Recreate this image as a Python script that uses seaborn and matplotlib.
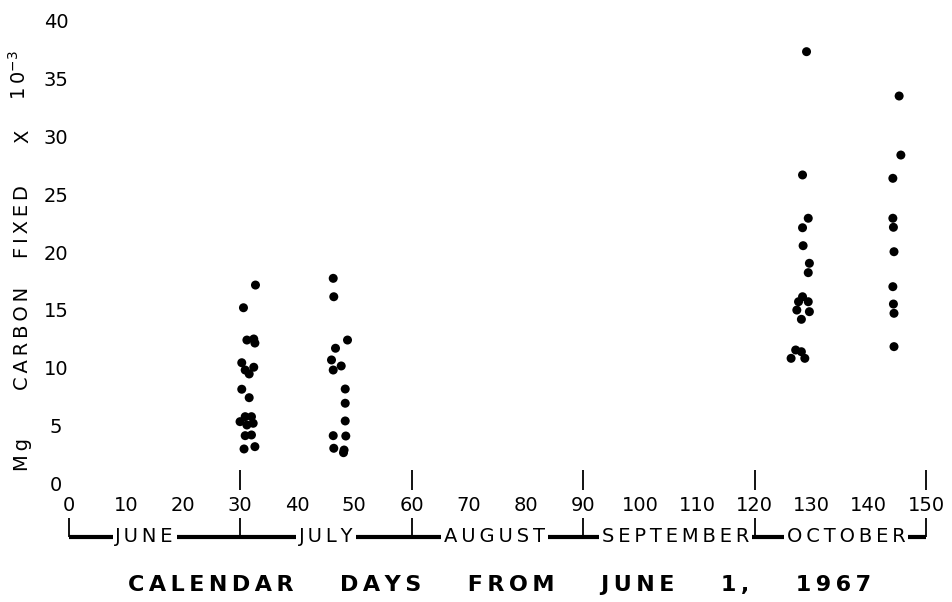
import matplotlib
matplotlib.use("Agg")
import matplotlib.pyplot as plt
import seaborn as sns

# ======================================
# Datos
# ======================================
day = [
    # ~30 de junio / 1 de julio
    32.7, 30.6, 31.2, 32.4, 32.6, 30.3, 30.9, 31.6, 32.4, 30.3,
    31.6, 30.0, 30.9, 32.0, 32.3, 31.2, 30.9, 32.0, 30.7, 32.6,
    # ~mediados de julio
    46.3, 46.4, 48.8, 46.7, 46.0, 46.3, 47.7, 48.4, 48.4, 48.4,
    46.3, 48.5, 46.4, 48.2, 48.1,
    # ~octubre (1)
    129.1, 128.4, 129.4, 128.4, 128.5, 129.6, 129.4, 128.4, 127.7, 129.4,
    127.4, 129.6, 128.2, 127.2, 128.2, 126.4, 128.8,
    # ~octubre (2)
    145.3, 145.6, 144.2, 144.2, 144.3, 144.4, 144.2, 144.3, 144.4, 144.4,
]
carbon = [
    17.15, 15.19, 12.40, 12.49, 12.14, 10.44, 9.81, 9.47, 10.05, 8.15,
    7.42, 5.35, 5.78, 5.78, 5.21, 5.06, 4.14, 4.20, 2.99, 3.19,
    17.73, 16.14, 12.40, 11.69, 10.68, 9.81, 10.16, 8.17, 6.94, 5.41,
    4.14, 4.11, 3.05, 2.90, 2.67,
    37.31, 26.66, 22.92, 22.10, 20.55, 19.03, 18.22, 16.14, 15.71, 15.71,
    14.99, 14.85, 14.19, 11.54, 11.39, 10.82, 10.82,
    33.48, 28.38, 26.37, 22.92, 22.14, 20.03, 17.01, 15.51, 14.71, 11.83,
]

x_ticks = list(range(0, 151, 10))
y_ticks = list(range(0, 41, 5))
month_bounds = [0, 30, 60, 90, 120, 150]
month_names = ["JUNE", "JULY", "AUGUST", "SEPTEMBER", "OCTOBER"]
month_label_day = [13.3, 45.0, 74.5, 106.2, 136.0]
title_words = ["CALENDAR", "DAYS", "FROM", "JUNE", "1,", "1967"]


def spaced(s):
    return "\u2009".join(s)


# ======================================
# Figura
# ======================================
sns.set_theme(style="white")
plt.rcParams["font.family"] = ["DejaVu Sans"]
plt.rcParams["text.color"] = "black"

fig = plt.figure(figsize=(9.52, 6.02), dpi=100)
ax = fig.add_axes([0.072, 0.1967, 0.9007, 0.7692])

sns.scatterplot(x=day, y=carbon, color="black", s=42, edgecolor="none",
                ax=ax, legend=False)

ax.set_xlim(0, 150)
ax.set_ylim(0, 40)
sns.despine(ax=ax, left=True, bottom=True)
ax.set_xticks(x_ticks)
ax.set_yticks(y_ticks)
ax.tick_params(axis="both", length=0, labelsize=14, colors="black")
ax.tick_params(axis="x", pad=9)
ax.tick_params(axis="y", pad=9)
for lbl in ax.get_yticklabels():
    lbl.set_ha("center")
ax.set_xlabel("")
ax.set_ylabel("")

# marcas de los meses
tr = ax.get_xaxis_transform()
ax.vlines(month_bounds[1:], -0.014, 0.029, transform=tr, color="black",
          lw=1.3, clip_on=False)
ax.vlines(month_bounds, -0.115, -0.074, transform=tr, color="black",
          lw=1.3, clip_on=False)
ax.hlines(-0.115, month_bounds[0], month_bounds[-1], transform=tr,
          color="black", lw=3, clip_on=False)
for name, d in zip(month_names, month_label_day):
    ax.text(d, -0.115, spaced(name), transform=tr, ha="center", va="center",
            fontsize=14, bbox=dict(fc="white", ec="none", pad=2))

# etiqueta del eje y
for word, yy in [("Mg", 0.245), ("CARBON", 0.437), ("FIXED", 0.632), ("X", 0.774)]:
    fig.text(0.024, yy, spaced(word), rotation=90, ha="center", va="center",
             fontsize=14)
fig.text(0.020, 0.875, "1\u20090$^{-3}$", rotation=90, ha="center",
         va="center", fontsize=14)

# título inferior
fig.text(0.525, 0.028, "      ".join(spaced(w) for w in title_words),
         ha="center", va="center", fontsize=16, fontweight="bold")

fig.savefig("out.png", dpi=100)
